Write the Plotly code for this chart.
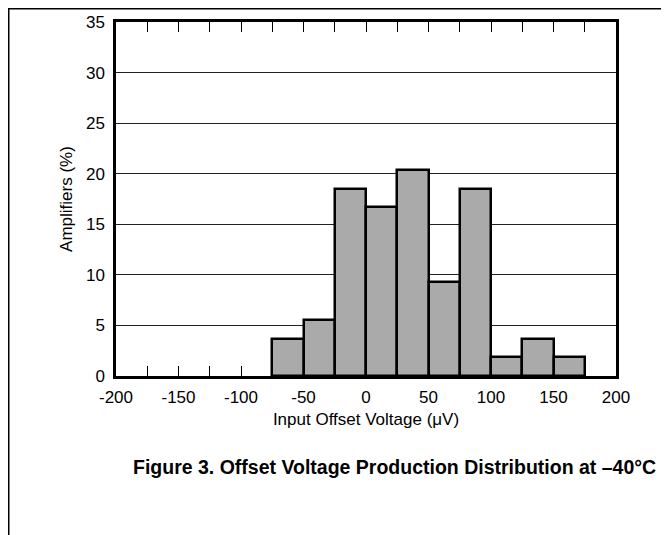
import plotly.graph_objects as go

bin_starts = [-75, -50, -25, 0, 25, 50, 75, 100, 125, 150]
bin_width = 25
percent = [3.7, 5.56, 18.52, 16.67, 20.37, 9.26, 18.52, 1.85, 3.7, 1.85]
x_tickvals = list(range(-200, 201, 25))
x_ticktext = [str(v) if v % 50 == 0 else "" for v in x_tickvals]
y_tickvals = [0, 5, 10, 15, 20, 25, 30, 35]

FONT = "Liberation Sans, Arial, sans-serif"

fig = go.Figure()
fig.add_trace(go.Bar(
    x=bin_starts, y=percent, width=bin_width, offset=0,
    marker=dict(color="#aaaaaa", line=dict(color="black", width=2.5)),
    showlegend=False, hoverinfo="skip",
))

# figure is drawn 8px in from the page corner
W, H = 661, 527
L, T = 108, 14
R = W - 608
B = H - 368
pw, ph = W - L - R, H - T - B

def px(xp):
    return (xp - L) / pw

def py(yp):
    return (H - B - yp) / ph

fig.update_layout(
    width=W, height=H,
    margin=dict(l=L, r=R, t=T, b=B, autoexpand=False),
    paper_bgcolor="white", plot_bgcolor="white",
    font=dict(family=FONT, size=17, color="black"),
    bargap=0,
    xaxis=dict(
        range=[-200, 200], tickvals=x_tickvals, ticktext=x_ticktext,
        ticks="inside", ticklen=10, tickwidth=1, tickcolor="black",
        showline=True, linecolor="black", linewidth=2.5, mirror="ticks",
        showgrid=False, zeroline=False, automargin=False,
        title=dict(text="Input Offset Voltage (\u03bcV)", standoff=7, font=dict(size=17)),
        ticklabelstandoff=4,
    ),
    yaxis=dict(
        range=[0, 35], tickvals=y_tickvals,
        ticks="", showline=True, linecolor="black", linewidth=2.5, mirror=True,
        showgrid=True, gridcolor="#222222", gridwidth=1, zeroline=False, automargin=False,
        title=dict(text="Amplifiers (%)", standoff=9, font=dict(size=17)),
        ticklabelstandoff=5,
    ),
    shapes=[
        dict(type="line", xref="paper", yref="paper",
             x0=px(0), x1=px(W), y0=py(0.75), y1=py(0.75),
             line=dict(color="black", width=1.5)),
        dict(type="line", xref="paper", yref="paper",
             x0=px(0.75), x1=px(0.75), y0=py(0.75), y1=py(H),
             line=dict(color="black", width=1.5)),
    ],
    annotations=[
        dict(text="<b>Figure 3. Offset Voltage Production Distribution at \u201340\u00b0C</b>",
             xref="paper", yref="paper", x=px(386), y=py(459),
             showarrow=False, font=dict(size=19.5, family=FONT), xanchor="center", yanchor="middle"),
    ],
)

fig.write_html("out.html")
